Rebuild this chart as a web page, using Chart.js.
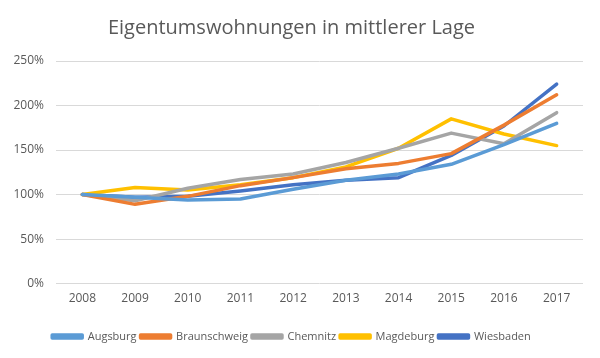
<!DOCTYPE html>
<html><head><meta charset="utf-8">
<script src="https://cdn.jsdelivr.net/npm/chart.js@4"></script>
<style>html,body{margin:0;padding:0;background:#fff}#w{width:600px;height:358px}</style>
</head><body><div id="w"><canvas id="c"></canvas></div>
<script>
const years = ['2008','2009','2010','2011','2012','2013','2014','2015','2016','2017'];
const augsburg     = [100, 97, 94, 95, 106, 116, 123, 134, 156, 180];
const braunschweig = [100, 89, 98, 110, 119, 129, 135, 146, 178, 212];
const chemnitz     = [100, 93, 107, 117, 123, 136, 152, 169, 157, 192];
const magdeburg    = [100, 108, 105, 111, 119, 131, 152, 185, 168, 155];
const wiesbaden    = [100, 97, 98, 104, 111, 116, 119, 144, 177, 224];
const yTicks = [0, 50, 100, 150, 200, 250];

const font = "Open Sans, Noto Sans, sans-serif";
const mk = (label, data, color) => ({label, data, borderColor: color, backgroundColor: color,
  borderWidth: 3.5, pointRadius: 0, tension: 0, fill: false, borderCapStyle: 'round', borderJoinStyle: 'round'});
new Chart(document.getElementById('c'), {
  type: 'line',
  data: { labels: years, datasets: [
    mk('Augsburg', augsburg, '#5B9BD5'),
    mk('Braunschweig', braunschweig, '#ED7D31'),
    mk('Chemnitz', chemnitz, '#A5A5A5'),
    mk('Magdeburg', magdeburg, '#FFC000'),
    mk('Wiesbaden', wiesbaden, '#4472C4')
  ]},
  options: {
    responsive: true, maintainAspectRatio: false, animation: false,
    layout: { padding: { left: 0, right: 17, top: 16, bottom: 6 } },
    plugins: {
      title: { display: true, text: 'Eigentumswohnungen in mittlerer Lage', color: '#595959',
        font: { family: font, size: 20, weight: 'normal' }, padding: { top: 0, bottom: 21 } },
      legend: { position: 'bottom', labels: { color: '#595959', boxWidth: 30, boxHeight: 3, padding: 4,
        font: { family: font, size: 11 } } },
      tooltip: { enabled: false }
    },
    scales: {
      x: { offset: true, grid: { display: false, drawTicks: false }, border: { display: false },
        afterFit: s => { s.height += 13; },
        ticks: { color: '#595959', font: { family: font, size: 12 }, padding: 8, maxRotation: 0 } },
      y: { min: 0, max: 250, afterFit: s => { s.width = 56; },
        afterBuildTicks: s => { s.ticks = yTicks.map(v => ({value: v})); },
        grid: { color: '#D9D9D9', drawTicks: false }, border: { display: false },
        ticks: { color: '#595959', font: { family: font, size: 12 }, padding: 12, callback: v => v + '%' } }
    }
  }
});
</script></body></html>
